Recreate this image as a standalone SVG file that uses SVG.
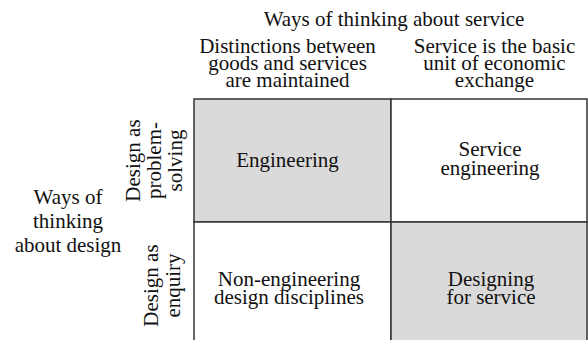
<svg xmlns="http://www.w3.org/2000/svg" width="588" height="340" viewBox="0 0 588 340">
  <style>
    text { font-family: "Liberation Serif", Tinos, "Times New Roman", Times, "Noto Serif", "DejaVu Serif", FreeSerif, serif; font-size: 21px; fill: #111; text-anchor: middle; }
    .cell { stroke: #333; stroke-width: 1.5; }
    .shaded { fill: #dadada; }
    .plain { fill: #ffffff; }
  </style>
  <rect width="588" height="340" fill="#ffffff"/>

  <!-- column headings -->
  <g id="heading-service">
    <text x="394" y="26">Ways of thinking about service</text>
  </g>
  <g id="heading-distinctions">
    <text x="287.5" y="52.5">Distinctions between</text>
    <text x="287.5" y="69.5">goods and services</text>
    <text x="287.5" y="86.5">are maintained</text>
  </g>
  <g id="heading-basic-unit">
    <text x="494.5" y="52.5">Service is the basic</text>
    <text x="494.5" y="69.5">unit of economic</text>
    <text x="494.5" y="86.5">exchange</text>
  </g>

  <!-- row headings -->
  <g id="heading-design">
    <text x="68" y="204">Ways of</text>
    <text x="68" y="228">thinking</text>
    <text x="68" y="252">about design</text>
  </g>
  <g id="heading-problem-solving" transform="translate(139.5,160.5) rotate(-90)">
    <text x="0" y="0">Design as</text>
    <text x="0" y="21">problem-</text>
    <text x="0" y="42">solving</text>
  </g>
  <g id="heading-enquiry" transform="translate(158,285.5) rotate(-90)">
    <text x="0" y="0">Design as</text>
    <text x="0" y="21.5">enquiry</text>
  </g>

  <!-- matrix cells -->
  <g id="cell-engineering">
    <rect class="cell shaded" x="194" y="99" width="197" height="123"/>
    <text x="287.5" y="167">Engineering</text>
  </g>
  <g id="cell-service-engineering">
    <rect class="cell plain" x="391" y="99" width="196" height="123"/>
    <text x="490" y="156">Service</text>
    <text x="490" y="175">engineering</text>
  </g>
  <g id="cell-non-engineering">
    <rect class="cell plain" x="194" y="222" width="197" height="123"/>
    <text x="289" y="285.5">Non-engineering</text>
    <text x="289" y="303.5">design disciplines</text>
  </g>
  <g id="cell-designing-for-service">
    <rect class="cell shaded" x="391" y="222" width="196" height="123"/>
    <text x="491" y="285.5">Designing</text>
    <text x="491" y="303.5">for service</text>
  </g>

  <g id="connectors"></g>
</svg>
